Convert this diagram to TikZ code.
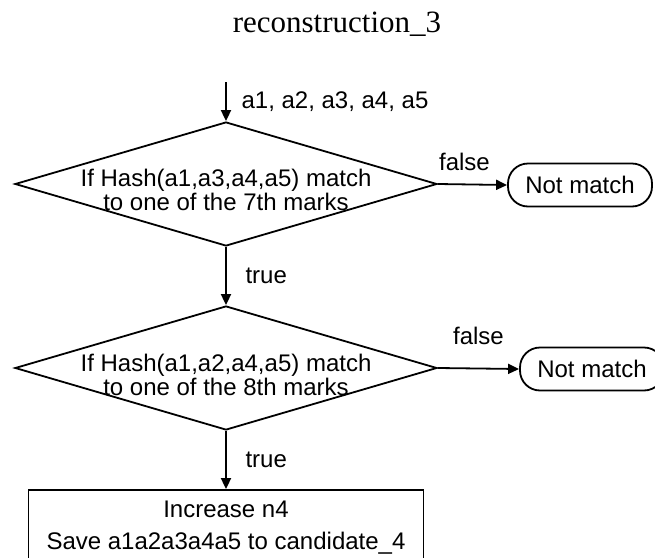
\documentclass[tikz,border=0pt]{standalone}
\usepackage{fontspec}
\setmainfont{Liberation Sans}
\newfontfamily\titlefont{Liberation Serif}
\usetikzlibrary{shapes.geometric,arrows.meta}

\begin{document}
\begin{tikzpicture}[x=0.5pt, y=-0.5pt, line width=0.9pt,
    >={Triangle[length=5.5pt,width=5pt]},
    every node/.style={font=\fontsize{12}{12}\selectfont},
    decision/.style={draw, diamond, inner sep=0pt, minimum width=211pt, minimum height=62pt},
    decisiontext/.style={align=center, inner sep=0pt},
    terminal/.style={draw, rectangle, rounded corners=10pt, minimum width=72pt, minimum height=21.5pt, inner sep=0pt},
    process/.style={draw, rectangle, align=center, minimum width=197.5pt, minimum height=38pt,
      font=\fontsize{12}{16}\selectfont}]
  \useasboundingbox (0,0) rectangle (655,558);

  \node[anchor=base, font=\titlefont\fontsize{15.5}{15.5}\selectfont] (title) at (337,32) {reconstruction\_3};

  \coordinate (start) at (226,82);
  \node[decision] (hash7) at (226,184) {};
  \node[decisiontext] (hash7text) at (226,190) {If Hash(a1,a3,a4,a5) match\\to one of the 7th marks};
  \node[terminal] (nomatch7) at (580,185) {Not match};

  \node[decision] (hash8) at (226,368) {};
  \node[decisiontext] (hash8text) at (226,375) {If Hash(a1,a2,a4,a5) match\\to one of the 8th marks};
  \node[terminal] (nomatch8) at (592,369) {Not match};

  \node[process] (save) at (226,528) {Increase n4\\Save a1a2a3a4a5 to candidate\_4};

  % inputs
  \draw[->] (start) -- (hash7.north) node[midway, right=4pt] (inputs) {a1, a2, a3, a4, a5};

  % first check
  \draw[->] (hash7.east) -- (nomatch7.west) node[midway, above=3pt, xshift=-4pt] (false7) {false};
  \draw[->] (hash7.south) -- (hash8.north) node[midway, right=6pt] (true7) {true};

  % second check
  \draw[->] (hash8.east) -- (nomatch8.west) node[midway, above=8pt] (false8) {false};
  \draw[->] (hash8.south) -- (save.north) node[midway, right=6pt] (true8) {true};
\end{tikzpicture}
\end{document}
